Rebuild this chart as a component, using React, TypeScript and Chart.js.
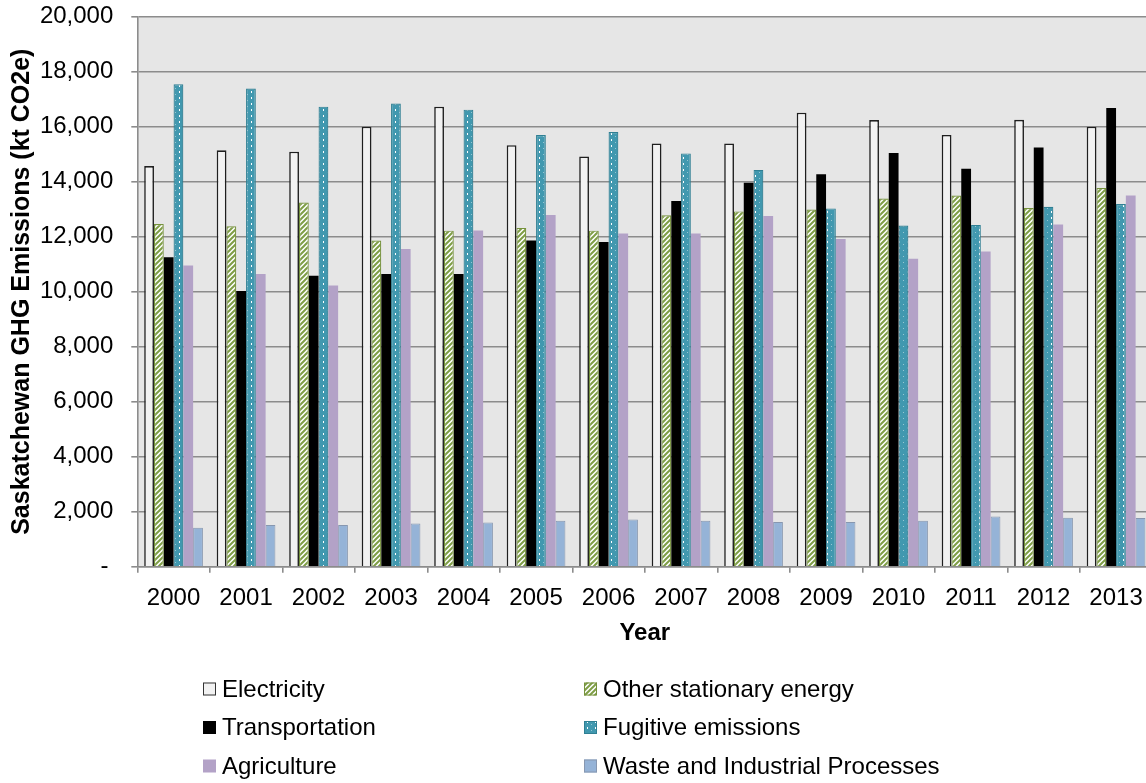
import { useEffect, useRef } from 'react';
import { Chart, registerables } from 'chart.js';

Chart.register(...registerables);

// Saskatchewan GHG emissions by sector, kt CO2e
const years = ['2000', '2001', '2002', '2003', '2004', '2005', '2006', '2007', '2008', '2009', '2010', '2011', '2012', '2013'];
const electricity = [14570, 15140, 15090, 16000, 16730, 15330, 14920, 15390, 15390, 16510, 16240, 15700, 16250, 16000];
const otherStationary = [12460, 12380, 13240, 11860, 12220, 12320, 12220, 12780, 12920, 12990, 13390, 13500, 13040, 13770];
const transportation = [11250, 10030, 10580, 10640, 10640, 11860, 11810, 13300, 13960, 14270, 15040, 14470, 15240, 16680];
const fugitive = [17540, 17390, 16730, 16840, 16620, 15700, 15810, 15030, 14430, 13030, 12410, 12430, 13090, 13190];
const agriculture = [10950, 10640, 10230, 11550, 12230, 12790, 12120, 12120, 12750, 11920, 11200, 11460, 12440, 13500];
const waste = [1420, 1520, 1520, 1570, 1610, 1670, 1720, 1670, 1630, 1630, 1670, 1830, 1780, 1770];

const yTickMax = 20000;
const yTickStep = 2000;

const FONT = '"Liberation Sans", Arial, Helvetica, sans-serif';

function hatchPattern(): CanvasPattern | string {
  const c = document.createElement('canvas');
  const n = 5;
  c.width = n;
  c.height = n;
  const g = c.getContext('2d');
  if (!g) return '#8aab4b';
  g.fillStyle = '#ffffff';
  g.fillRect(0, 0, n, n);
  g.strokeStyle = '#7f9e46';
  g.lineWidth = 2;
  g.beginPath();
  g.moveTo(-1, n + 1);
  g.lineTo(n + 1, -1);
  g.moveTo(-1, 1);
  g.lineTo(1, -1);
  g.moveTo(n - 1, n + 1);
  g.lineTo(n + 1, n - 1);
  g.stroke();
  return g.createPattern(c, 'repeat') || '#8aab4b';
}

function dotPattern(): CanvasPattern | string {
  const c = document.createElement('canvas');
  c.width = 8;
  c.height = 6;
  const g = c.getContext('2d');
  if (!g) return '#4198af';
  g.fillStyle = '#4198af';
  g.fillRect(0, 0, 8, 6);
  g.fillStyle = '#ffffff';
  g.fillRect(3, 1, 1, 2);
  g.fillStyle = 'rgba(255,255,255,0.45)';
  g.fillRect(7, 4, 1, 1);
  return g.createPattern(c, 'repeat') || '#4198af';
}

const plotBackground = {
  id: 'plotBackground',
  beforeDraw(chart: any) {
    const { ctx, chartArea } = chart;
    ctx.save();
    ctx.fillStyle = '#e6e6e6';
    ctx.fillRect(chartArea.left, chartArea.top, chartArea.right - chartArea.left, chartArea.bottom - chartArea.top);
    ctx.restore();
  },
};

// Two-column legend below the axis title
const gridLegend = {
  id: 'gridLegend',
  afterDraw(chart: any) {
    const ctx = chart.ctx as CanvasRenderingContext2D;
    const cols = [203, 584];
    const rows = [689, 727.5, 766];
    const box = 13;
    chart.data.datasets.forEach((ds: any, i: number) => {
      const x = cols[i % 2];
      const yc = rows[Math.floor(i / 2)];
      ctx.save();
      ctx.fillStyle = ds.backgroundColor;
      ctx.fillRect(x, yc - box / 2, box, box);
      if (ds.legendBorder) {
        ctx.strokeStyle = ds.legendBorder;
        ctx.lineWidth = 1;
        ctx.strokeRect(x + 0.5, yc - box / 2 + 0.5, box - 1, box - 1);
      }
      ctx.fillStyle = '#000000';
      ctx.font = `24px ${FONT}`;
      ctx.textAlign = 'left';
      ctx.textBaseline = 'middle';
      ctx.fillText(ds.label, x + 19, yc + 1);
      ctx.restore();
    });
  },
};

export default function App() {
  const canvasRef = useRef<HTMLCanvasElement | null>(null);

  useEffect(() => {
    const canvas = canvasRef.current;
    if (!canvas) return;
    const grid = '#8c8c8c';
    const chart = new Chart(canvas, {
      type: 'bar',
      data: {
        labels: years,
        datasets: [
          { label: 'Electricity', data: electricity, backgroundColor: '#f2f2f2', borderColor: '#1f1f1f', borderWidth: 1.6, legendBorder: '#333333' } as any,
          { label: 'Other stationary energy', data: otherStationary, backgroundColor: hatchPattern(), borderColor: '#76923c', borderWidth: 1.2, legendBorder: '#76923c' } as any,
          { label: 'Transportation', data: transportation, backgroundColor: '#000000', borderWidth: 0 } as any,
          { label: 'Fugitive emissions', data: fugitive, backgroundColor: dotPattern(), borderColor: '#2f7f93', borderWidth: 1.2, legendBorder: '#2f7f93' } as any,
          { label: 'Agriculture', data: agriculture, backgroundColor: '#b3a2c7', borderWidth: 0 } as any,
          { label: 'Waste and Industrial Processes', data: waste, backgroundColor: '#95b3d7', borderColor: '#8797b0', borderWidth: 1, legendBorder: '#8797b0' } as any,
        ],
      },
      options: {
        responsive: false,
        animation: false,
        layout: { padding: { left: 0, top: 16.7, right: 7.7, bottom: 106.3 } },
        datasets: { bar: { categoryPercentage: 0.81, barPercentage: 1 } },
        plugins: {
          legend: { display: false },
          tooltip: { enabled: false },
        },
        scales: {
          x: {
            grid: { drawOnChartArea: false, drawTicks: true, tickLength: 6, color: grid, lineWidth: 1.6 },
            border: { color: grid, width: 1.6 },
            ticks: { color: '#000000', font: { family: FONT, size: 24 }, padding: 11, maxRotation: 0, autoSkip: false },
            title: { display: true, text: 'Year', color: '#000000', font: { family: FONT, size: 24, weight: 'bold' }, padding: { top: 0, bottom: 29.3 } },
            afterFit: (s: any) => { s.height = 110; },
          },
          y: {
            min: 0,
            max: yTickMax,
            grid: { color: grid, lineWidth: 1.6, tickLength: 6 },
            border: { color: grid, width: 1.6 },
            ticks: {
              stepSize: yTickStep,
              color: '#000000',
              font: { family: FONT, size: 24 },
              padding: 18,
              callback: (v: any) => (Number(v) === 0 ? '-\u2009' : Number(v).toLocaleString('en-US')),
            },
            title: { display: true, text: 'Saskatchewan GHG Emissions (kt CO2e)', color: '#000000', font: { family: FONT, size: 25, weight: 'bold' }, padding: { top: 7, bottom: 0 } },
            afterFit: (s: any) => {
              s.width = 137.3;
              s.paddingTop = 0;
              s.paddingBottom = 0;
            },
          },
        },
      },
      plugins: [plotBackground, gridLegend],
    });
    return () => chart.destroy();
  }, []);

  return (
    <div style={{ position: 'fixed', left: 0, top: 0, width: 1146, height: 783, overflow: 'hidden', background: '#ffffff' }}>
      <canvas ref={canvasRef} width={1160} height={783} style={{ display: 'block' }} />
    </div>
  );
}
